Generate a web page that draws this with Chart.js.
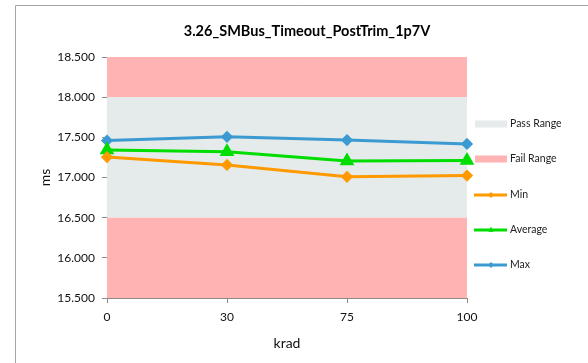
<!DOCTYPE html>
<html lang="en">
<head>
    <meta charset="UTF-8">
    <title>3.26_SMBus_Timeout_PostTrim_1p7V</title>
    <style>
        html, body { margin: 0; padding: 0; background: #fff; }
        #wrap { width: 588px; height: 363px; }
    </style>
</head>
<body>
    <div id="wrap">
        <canvas id="myChart" width="588" height="363"></canvas>
    </div>
    <script src="https://cdn.jsdelivr.net/npm/chart.js"></script>
    <script>
        // data
        const kradLabels = ["0", "30", "75", "100"];
        const minValues = [17.255, 17.156, 17.008, 17.024];
        const avgValues = [17.342, 17.322, 17.205, 17.212];
        const maxValues = [17.460, 17.507, 17.466, 17.418];
        const failLow = 16.5;
        const passHigh = 18.0;
        const failHigh = 18.5;
        const yMin = 15.5;
        const yMax = 18.5;
        const yStep = 0.5;

        const FONT = "Lato, 'Open Sans', sans-serif";
        const c_pass = "#e5eaea";
        const c_fail = "#ffb3b3";

        const v_band = (val) => kradLabels.map(() => val);

        // frame, title and legend drawn on top of the canvas
        const p_deco = {
            id: "deco",
            afterDraw(chart) {
                const ctx = chart.ctx;
                ctx.save();
                ctx.strokeStyle = "#a6a6a6";
                ctx.lineWidth = 1;
                ctx.beginPath();
                ctx.moveTo(15.5, 363);
                ctx.lineTo(15.5, 5.5);
                ctx.lineTo(588, 5.5);
                ctx.stroke();

                ctx.fillStyle = "#000";
                ctx.font = "bold 14.5px " + FONT;
                ctx.textAlign = "center";
                ctx.textBaseline = "middle";
                ctx.fillText("3.26_SMBus_Timeout_PostTrim_1p7V", 307, 31);

                // legend
                ctx.font = "10.5px " + FONT;
                ctx.textAlign = "left";
                const items = [
                    { text: "Pass Range", y: 124, box: c_pass },
                    { text: "Fail Range", y: 159, box: c_fail },
                    { text: "Min", y: 195, ds: 3 },
                    { text: "Average", y: 230, ds: 4 },
                    { text: "Max", y: 265, ds: 5 }
                ];
                items.forEach(it => {
                    if (it.box) {
                        ctx.fillStyle = it.box;
                        ctx.fillRect(475, it.y - 3.5, 32, 7);
                    } else {
                        const ds = chart.data.datasets[it.ds];
                        ctx.strokeStyle = ds.borderColor;
                        ctx.fillStyle = ds.backgroundColor;
                        ctx.lineWidth = 3;
                        ctx.beginPath();
                        ctx.moveTo(474, it.y);
                        ctx.lineTo(507, it.y);
                        ctx.stroke();
                        ctx.lineWidth = 1;
                        Chart.helpers.drawPoint(ctx, {
                            pointStyle: ds.pointStyle,
                            radius: 2.5,
                            rotation: 0,
                            borderWidth: 1
                        }, 491, it.y);
                    }
                    ctx.fillStyle = "#222";
                    ctx.fillText(it.text, 510, it.y);
                });
                ctx.restore();
            }
        };

        const ctx = document.getElementById("myChart");

        new Chart(ctx, {
            type: "line",
            data: {
                labels: kradLabels,
                datasets: [
                    { label: "Fail Range", data: v_band(failLow), backgroundColor: c_fail, fill: "start", borderWidth: 0, pointRadius: 0, order: 2 },
                    { label: "Pass Range", data: v_band(passHigh), backgroundColor: c_pass, fill: "-1", borderWidth: 0, pointRadius: 0, order: 2 },
                    { label: "Fail Range", data: v_band(failHigh), backgroundColor: c_fail, fill: "-1", borderWidth: 0, pointRadius: 0, order: 2 },
                    { label: "Min", data: minValues, borderColor: "#ff9900", backgroundColor: "#ff9900", borderWidth: 3, pointStyle: "rectRot", pointRadius: 4, fill: false, order: 0 },
                    { label: "Average", data: avgValues, borderColor: "#00dd00", backgroundColor: "#00dd00", borderWidth: 3, pointStyle: "triangle", pointRadius: 5.5, fill: false, order: 0 },
                    { label: "Max", data: maxValues, borderColor: "#3c9ad2", backgroundColor: "#3c9ad2", borderWidth: 3, pointStyle: "rectRot", pointRadius: 4, fill: false, order: 0 }
                ]
            },
            options: {
                responsive: false,
                animation: false,
                events: [],
                layout: { padding: { left: 16, right: 121, top: 57, bottom: 0 } },
                plugins: {
                    legend: { display: false },
                    title: { display: false },
                    tooltip: { enabled: false }
                },
                elements: { line: { tension: 0 } },
                scales: {
                    x: {
                        type: "category",
                        offset: false,
                        afterFit: (s) => { s.height = 65; },
                        border: { display: true, color: "#8c8c8c", width: 1 },
                        grid: { display: true, drawOnChartArea: false, drawTicks: true, tickLength: 5, color: "#8c8c8c" },
                        ticks: { color: "#111", font: { family: FONT, size: 12 }, padding: 7, maxRotation: 0 },
                        title: { display: true, text: "krad", color: "#111", font: { family: FONT, size: 14 }, padding: { top: 0, bottom: 11 } }
                    },
                    y: {
                        min: yMin,
                        max: yMax,
                        afterFit: (s) => { s.width = 91; },
                        border: { display: true, color: "#8c8c8c", width: 1 },
                        grid: { display: true, drawOnChartArea: false, drawTicks: true, tickLength: 5, color: "#8c8c8c" },
                        ticks: {
                            stepSize: yStep,
                            color: "#111",
                            font: { family: FONT, size: 12 },
                            padding: 7,
                            callback: (v) => Number(v).toFixed(3)
                        },
                        title: { display: true, text: "ms", color: "#111", font: { family: FONT, size: 14 }, padding: { top: 21, bottom: 0 } }
                    }
                }
            },
            plugins: [p_deco]
        });
    </script>
</body>
</html>
